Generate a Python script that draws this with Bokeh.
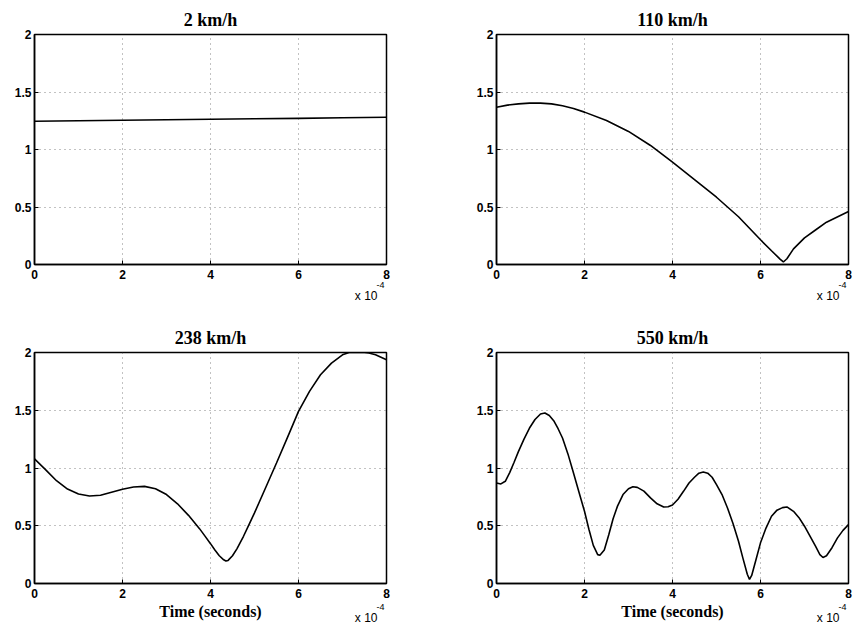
from bokeh.plotting import figure
from bokeh.layouts import column, row
from bokeh.models import FixedTicker, Range1d, Title
from bokeh.embed import file_html
from bokeh.resources import INLINE

titles = ["2 km/h", "110 km/h", "238 km/h", "550 km/h"]
x_ticks = [0, 2, 4, 6, 8]
x_tick_labels = ["0", "2", "4", "6", "8"]
y_ticks = [0, 0.5, 1, 1.5, 2]
y_tick_labels = ["0", "0.5", "1", "1.5", "2"]
x_label = "Time (seconds)"
multiplier_base = "x 10"
multiplier_exp = "-4"

# time in units of 1e-4 s
t_2 = [0, 1, 2, 3, 4, 5, 6, 7, 8]
v_2 = [1.246, 1.250, 1.255, 1.259, 1.263, 1.267, 1.271, 1.276, 1.281]

t_110 = [0, 0.25, 0.5, 0.75, 1.0, 1.25, 1.5, 1.75, 2.0, 2.5, 3.0, 3.5, 4.0,
         4.5, 5.0, 5.5, 6.0, 6.25, 6.45, 6.52, 6.6, 6.75, 7.0, 7.25, 7.5, 8.0]
v_110 = [1.368, 1.386, 1.397, 1.403, 1.403, 1.397, 1.38, 1.357, 1.325, 1.252,
         1.157, 1.035, 0.89, 0.739, 0.585, 0.415, 0.215, 0.12, 0.045, 0.022,
         0.05, 0.136, 0.232, 0.30, 0.368, 0.461]

t_238 = [0, 0.25, 0.5, 0.75, 1.0, 1.25, 1.5, 1.75, 2.0, 2.25, 2.5, 2.75, 3.0,
         3.25, 3.5, 3.75, 3.875, 4.0, 4.1, 4.2, 4.3, 4.35, 4.4, 4.5, 4.6, 4.75,
         4.875, 5.0, 5.25, 5.5, 5.75, 6.0, 6.25, 6.5, 6.75, 7.0, 7.15, 7.25,
         7.5, 7.6, 7.75, 8.0]
v_238 = [1.08, 0.986, 0.89, 0.818, 0.775, 0.758, 0.764, 0.79, 0.816, 0.836,
         0.841, 0.821, 0.77, 0.69, 0.59, 0.475, 0.41, 0.345, 0.29, 0.24,
         0.205, 0.195, 0.2, 0.24, 0.30, 0.409, 0.51, 0.611, 0.827, 1.043,
         1.265, 1.49, 1.663, 1.807, 1.908, 1.98, 2.0, 2.0, 2.0, 1.995, 1.98,
         1.937]

t_550 = [0, 0.1, 0.2, 0.3, 0.4, 0.5, 0.625, 0.75, 0.875, 1.0, 1.1, 1.2, 1.3,
         1.4, 1.5, 1.625, 1.75, 1.875, 2.0, 2.1, 2.2, 2.3, 2.35, 2.45, 2.55,
         2.65, 2.75, 2.875, 3.0, 3.1, 3.2, 3.35, 3.5, 3.65, 3.8, 3.9, 4.0,
         4.125, 4.25, 4.375, 4.5, 4.6, 4.7, 4.8, 4.9, 5.0, 5.125, 5.25, 5.375,
         5.5, 5.6, 5.7, 5.75, 5.8, 5.9, 6.0, 6.125, 6.25, 6.375, 6.5, 6.6,
         6.75, 6.875, 7.0, 7.125, 7.25, 7.35, 7.42, 7.5, 7.625, 7.75, 7.875,
         8.0]
v_550 = [0.87, 0.862, 0.885, 0.96, 1.05, 1.144, 1.25, 1.346, 1.42, 1.468,
         1.476, 1.455, 1.41, 1.34, 1.26, 1.12, 0.957, 0.79, 0.625, 0.47, 0.33,
         0.25, 0.245, 0.29, 0.42, 0.56, 0.67, 0.77, 0.82, 0.838, 0.832, 0.80,
         0.741, 0.69, 0.662, 0.665, 0.68, 0.73, 0.798, 0.87, 0.92, 0.955,
         0.965, 0.955, 0.92, 0.856, 0.77, 0.654, 0.52, 0.366, 0.22, 0.08,
         0.035, 0.07, 0.21, 0.352, 0.48, 0.582, 0.635, 0.657, 0.663, 0.625,
         0.57, 0.496, 0.41, 0.323, 0.25, 0.225, 0.24, 0.31, 0.395, 0.46, 0.51]

series = [(t_2, v_2), (t_110, v_110), (t_238, v_238), (t_550, v_550)]

# per-panel geometry: (width, height, left, right, top, bottom)
geom = [
    (420, 313, 34, 34, 34, 49),
    (433, 313, 76, 5, 34, 49),
    (420, 313, 34, 34, 39, 43),
    (433, 313, 76, 5, 39, 43),
]

figs = []
for i, ((t, v), (w, h, bl, br, bt, bb)) in enumerate(zip(series, geom)):
    p = figure(width=w, height=h, output_backend="svg", toolbar_location=None,
               x_range=Range1d(0, 8), y_range=Range1d(0, 2),
               min_border_left=bl, min_border_right=br,
               min_border_top=bt, min_border_bottom=bb,
               title=titles[i])
    p.title.align = "center"
    p.title.text_font = "Liberation Serif"
    p.title.text_font_style = "bold"
    p.title.text_font_size = "18px"
    p.title.text_color = "black"
    p.title.standoff = 10

    p.background_fill_color = "white"
    p.border_fill_color = "white"
    p.outline_line_color = "black"
    p.outline_line_width = 1.5
    p.outline_line_alpha = 1

    xax = p.xaxis[0]
    yax = p.yaxis[0]
    xax.ticker = FixedTicker(ticks=x_ticks)
    yax.ticker = FixedTicker(ticks=y_ticks)
    xax.major_label_overrides = dict(zip(x_ticks, x_tick_labels))
    yax.major_label_overrides = dict(zip(y_ticks, y_tick_labels))
    for ax in (xax, yax):
        ax.major_tick_in = 4
        ax.major_tick_out = 0
        ax.minor_tick_in = 0
        ax.minor_tick_out = 0
        ax.axis_line_color = "black"
        ax.axis_line_width = 1.5
        ax.major_tick_line_color = "black"
        ax.major_label_text_font = "Liberation Sans"
        ax.major_label_text_font_style = "bold"
        ax.major_label_text_font_size = "12px"
        ax.major_label_text_color = "black"
    xax.major_label_standoff = 5
    yax.major_label_standoff = 3

    if i >= 2:
        xax.axis_label = x_label
        xax.axis_label_text_font = "Liberation Serif"
        xax.axis_label_text_font_style = "bold"
        xax.axis_label_text_font_size = "16px"
        xax.axis_label_text_color = "black"
        xax.axis_label_standoff = 2

    p.xgrid.ticker = FixedTicker(ticks=x_ticks)
    p.ygrid.ticker = FixedTicker(ticks=y_ticks)
    for g in (p.xgrid, p.ygrid):
        g.grid_line_color = "#444444"
        g.grid_line_width = 1
        g.grid_line_dash = "1 4"
        g.grid_line_alpha = 0.65

    p.line(t, v, line_color="black", line_width=1.6)

    if i < 2:
        s1, s2 = 14, -60
    else:
        s1, s2 = -24, -38
    base = Title(text=multiplier_base, align="right", vertical_align="top",
                 offset=9, standoff=s1,
                 text_font="Liberation Sans", text_font_size="12px",
                 text_font_style="normal", text_color="black")
    expo = Title(text=multiplier_exp, align="right", vertical_align="top",
                 offset=2, standoff=s2,
                 text_font="Liberation Sans", text_font_size="9px",
                 text_font_style="normal", text_color="black")
    p.add_layout(base, "below")
    p.add_layout(expo, "below")
    figs.append(p)

layout = column(row(figs[0], figs[1]), row(figs[2], figs[3]))
open("out.html", "w").write(file_html(layout, INLINE))
